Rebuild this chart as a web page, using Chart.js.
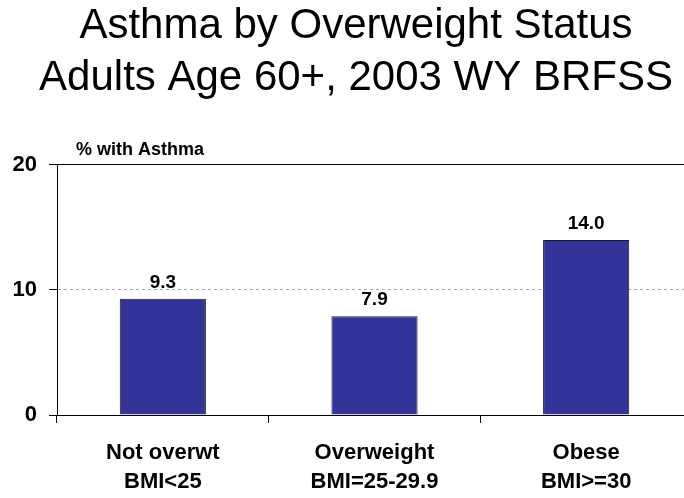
<!DOCTYPE html>
<html>
<head>
<meta charset="utf-8">
<title>Asthma by Overweight Status</title>
<script src="https://cdn.jsdelivr.net/npm/chart.js@4/dist/chart.umd.min.js"></script>
<style>
  html, body { margin: 0; padding: 0; background: #fff; overflow: hidden; }
  /* plot runs a little past the right edge, like the original slide */
  #wrap { position: relative; width: 712px; height: 498px; }
</style>
</head>
<body>
<div id="wrap"><canvas id="asthmaChart"></canvas></div>
<script>
// ======================================================
// DATA
// ======================================================
const titleLines = ["Asthma by Overweight Status", "Adults Age 60+, 2003 WY BRFSS"];
const yAxisTitle = "% with Asthma";
const categories = [
  ["Not overwt", "BMI<25"],
  ["Overweight", "BMI=25-29.9"],
  ["Obese", "BMI>=30"]
];
const asthmaPct = [9.3, 7.9, 14.0];
const yTicks = [0, 10, 20];

const FONT = "'Liberation Sans', Arial, Helvetica, sans-serif";


// ======================================================
// PLUGINS — value labels + axis caption
// ======================================================
const valueLabels = {
  id: "valueLabels",
  afterDatasetsDraw(chart) {
    const ctx = chart.ctx;
    const meta = chart.getDatasetMeta(0);
    ctx.save();
    ctx.font = "bold 19px " + FONT;
    ctx.fillStyle = "#000";
    ctx.textAlign = "center";
    ctx.textBaseline = "middle";
    meta.data.forEach((bar, i) => {
      ctx.fillText(asthmaPct[i].toFixed(1), bar.x, bar.y - 16);
    });
    ctx.restore();
  }
};

const axisCaption = {
  id: "axisCaption",
  afterDraw(chart) {
    const { ctx, chartArea } = chart;
    ctx.save();
    ctx.font = "bold 18px " + FONT;
    ctx.fillStyle = "#000";
    ctx.textAlign = "left";
    ctx.textBaseline = "middle";
    ctx.fillText(yAxisTitle, chartArea.left + 19, chartArea.top - 15);
    ctx.restore();
  }
};


// ======================================================
// CHART
// ======================================================
const canvas = document.getElementById("asthmaChart");

new Chart(canvas, {
  type: "bar",
  data: {
    labels: categories,
    datasets: [{
      data: asthmaPct,
      backgroundColor: "#333399",
      borderColor: "#1a1a1a",
      borderWidth: 1,
      barPercentage: 0.407,
      categoryPercentage: 1
    }]
  },
  options: {
    responsive: true,
    maintainAspectRatio: false,
    devicePixelRatio: 1,
    animation: false,
    layout: { padding: 0 },
    scales: {
      x: {
        type: "category",
        position: "bottom",
        grid: {
          offset: true,
          drawOnChartArea: false,
          drawTicks: true,
          tickLength: 8,
          tickColor: "#000"
        },
        border: { display: true, color: "#000", width: 1 },
        ticks: {
          color: "#000",
          font: { family: FONT, size: 22, weight: "bold", lineHeight: 1.34 },
          padding: 15,
          maxRotation: 0,
          autoSkip: false
        },
        afterFit: s => { s.height = 83; }
      },
      x2: {
        type: "category",
        position: "top",
        grid: { display: false },
        ticks: { display: false },
        border: { display: true, color: "#000", width: 1 },
        afterFit: s => { s.height = 0; }
      },
      y: {
        min: 0,
        max: 20,
        afterBuildTicks: s => { s.ticks = yTicks.map(v => ({ value: v })); },
        grid: {
          color: c => (c.tick && c.tick.value === 10 ? "#aaa" : "rgba(0,0,0,0)"),
          tickColor: "#000",
          tickLength: 8
        },
        border: { display: true, color: "#000", width: 1, dash: [3, 3] },
        ticks: {
          color: "#000",
          font: { family: FONT, size: 22, weight: "bold" },
          padding: 12
        },
        afterFit: s => { s.width = 57; }
      },
      // empty right-hand strip so the plot ends past the visible edge
      y2: {
        type: "linear",
        position: "right",
        grid: { display: false },
        ticks: { display: false },
        border: { display: false },
        afterFit: s => { s.width = 20; }
      }
    },
    plugins: {
      legend: { display: false },
      tooltip: { enabled: false },
      title: {
        display: true,
        text: titleLines,
        color: "#000",
        font: { family: FONT, size: 42, weight: "normal", lineHeight: 1.238 },
        padding: { top: 0, bottom: 61 }
      }
    }
  },
  plugins: [valueLabels, axisCaption]
});
</script>
</body>
</html>
